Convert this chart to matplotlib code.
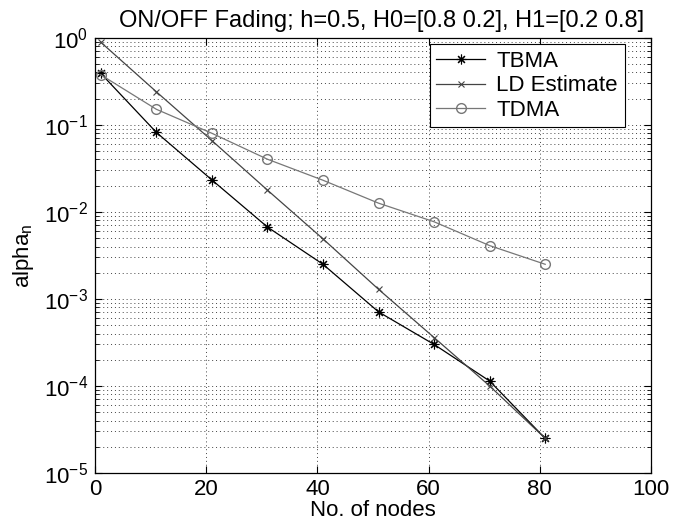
import matplotlib.pyplot as plt
import numpy as np

plt.rcParams['font.family'] = ['Liberation Sans', 'DejaVu Sans']
plt.rcParams['mathtext.fontset'] = 'custom'
plt.rcParams['mathtext.rm'] = 'Liberation Sans'

# Data
nodes = [1, 11, 21, 31, 41, 51, 61, 71, 81]
tbma = [0.39, 0.082, 0.0233, 0.0067, 0.0025, 7.1e-4, 3.0e-4, 1.14e-4, 2.5e-5]
ld_est = [0.89, 0.24, 0.066, 0.0178, 0.0049, 1.29e-3, 3.6e-4, 1.0e-4, 2.5e-5]
tdma = [0.376, 0.151, 0.080, 0.0403, 0.0231, 0.0126, 0.0077, 0.0041, 0.0025]

fig = plt.figure(figsize=(6.85, 5.25), dpi=100)
ax = fig.add_axes([0.139, 0.099, 0.811, 0.829])

ax.semilogy(nodes, tbma, '-', color='black', marker=(8, 2, 0), markersize=7,
            markeredgewidth=0.8, linewidth=0.9, label='TBMA')
ax.semilogy(nodes, ld_est, '-', color='#444444', marker='x', markersize=5,
            markeredgewidth=0.8, linewidth=0.9, label='LD Estimate')
ax.semilogy(nodes, tdma, '-', color='#777777', marker='o', markersize=7,
            markerfacecolor='none', linewidth=0.9, label='TDMA')

ax.set_xlim(0, 100)
ax.set_ylim(1e-5, 1e0)
ax.set_xticks([0, 20, 40, 60, 80, 100])
dots = (0, (1, 3))
ax.grid(True, which='major', linestyle=dots, color='#444444', linewidth=0.7)
ax.grid(True, which='minor', axis='y', linestyle=dots, color='#444444', linewidth=0.7)
ax.tick_params(which='both', direction='in', top=True, right=True, labelsize=16)
ax.tick_params(which='major', length=5, pad=5)
ax.tick_params(axis='x', pad=4)
ax.tick_params(which='minor', length=3)
for s in ax.spines.values():
    s.set_linewidth(0.9)

ax.set_xlabel('No. of nodes', fontsize=16, labelpad=0)
ax.set_ylabel(r'alpha$_\mathrm{n}$', fontsize=16, labelpad=6)
ax.set_title('ON/OFF Fading; h=0.5, H0=[0.8 0.2], H1=[0.2 0.8]', fontsize=17,
             pad=8, x=0.515)

leg = ax.legend(loc='upper right', fontsize=16, fancybox=False, edgecolor='black',
                framealpha=1, handlelength=2.2, handletextpad=0.5, borderaxespad=0.3,
                bbox_to_anchor=(0.965, 1.0), labelspacing=0.15, borderpad=0.3)
leg.get_frame().set_linewidth(0.8)

fig.savefig('out.png', dpi=100)
